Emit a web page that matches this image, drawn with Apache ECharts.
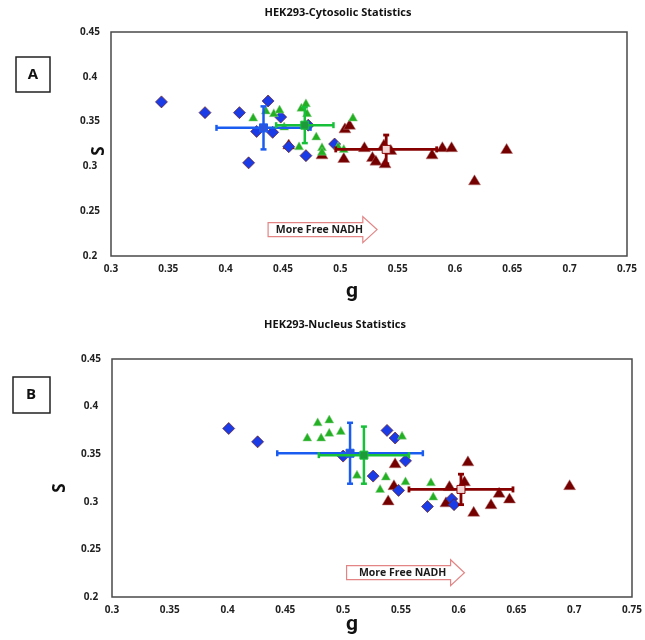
<!DOCTYPE html>
<html>
<head>
<meta charset="utf-8">
<script src="https://cdn.jsdelivr.net/npm/echarts@6/dist/echarts.min.js"></script>
<style>
  html, body { margin: 0; padding: 0; background: #fff; }
  #main { width: 645px; height: 640px; }
</style>
</head>
<body>
<div id="main"></div>
<script>
// axis ticks (same for both panels)
const gTicks = [0.3, 0.35, 0.4, 0.45, 0.5, 0.55, 0.6, 0.65, 0.7, 0.75];
const sTicks = [0.2, 0.25, 0.3, 0.35, 0.4, 0.45];

// panel A - cytosolic, points are [g, s]
const cytoBlue = [[0.344, 0.372], [0.382, 0.360], [0.412, 0.360], [0.437, 0.373], [0.448, 0.355], [0.427, 0.339],
  [0.441, 0.338], [0.472, 0.346], [0.455, 0.322], [0.470, 0.312], [0.420, 0.304], [0.495, 0.325]];
const cytoGreen = [[0.424, 0.355], [0.435, 0.363], [0.442, 0.360], [0.447, 0.364], [0.466, 0.366], [0.470, 0.371],
  [0.471, 0.360], [0.451, 0.345], [0.479, 0.334], [0.464, 0.323], [0.484, 0.322], [0.484, 0.317],
  [0.498, 0.323], [0.503, 0.320], [0.511, 0.355]];
const cytoRed = [[0.455, 0.325], [0.484, 0.314], [0.504, 0.343], [0.508, 0.347], [0.503, 0.310], [0.521, 0.322],
  [0.528, 0.311], [0.531, 0.307], [0.538, 0.325], [0.539, 0.304], [0.544, 0.319], [0.580, 0.314],
  [0.589, 0.322], [0.597, 0.322], [0.617, 0.285], [0.645, 0.320]];
// mean g, mean s, sd g, sd s
const cytoBlueMean = [0.433, 0.343, 0.041, 0.024];
const cytoGreenMean = [0.469, 0.346, 0.025, 0.020];
const cytoRedMean = [0.540, 0.319, 0.044, 0.016];

// panel B - nucleus
const nucBlue = [[0.401, 0.377], [0.426, 0.363], [0.538, 0.375], [0.545, 0.367], [0.500, 0.348], [0.554, 0.343],
  [0.526, 0.327], [0.548, 0.312], [0.573, 0.295], [0.594, 0.303], [0.596, 0.297]];
const nucGreen = [[0.469, 0.368], [0.478, 0.384], [0.488, 0.387], [0.481, 0.368], [0.488, 0.373], [0.498, 0.375],
  [0.551, 0.370], [0.512, 0.329], [0.537, 0.327], [0.532, 0.314], [0.554, 0.322], [0.576, 0.321], [0.578, 0.306]];
const nucRed = [[0.545, 0.341], [0.544, 0.318], [0.539, 0.302], [0.608, 0.343], [0.592, 0.317], [0.605, 0.322],
  [0.589, 0.300], [0.613, 0.290], [0.628, 0.298], [0.635, 0.310], [0.644, 0.304], [0.696, 0.318]];
const nucBlueMean = [0.506, 0.351, 0.063, 0.032];
const nucGreenMean = [0.518, 0.349, 0.039, 0.030];
const nucRedMean = [0.602, 0.313, 0.045, 0.016];

// arrow: g start, g end of body, g tip, s
const cytoArrow = [0.437, 0.5196, 0.532, 0.2295];
const nucArrow = [0.503, 0.593, 0.605, 0.2255];

const FONT = '"Open Sans", Lato, sans-serif';

function errBar(color, fill, lw) {
  return function (params, api) {
    const g = api.value(0), s = api.value(1), eg = api.value(2), es = api.value(3);
    const L = api.coord([g - eg, s]), R = api.coord([g + eg, s]);
    const T = api.coord([g, s + es]), B = api.coord([g, s - es]);
    const C = api.coord([g, s]);
    const cap = 3;
    const st = { stroke: color, lineWidth: lw };
    const ln = (x1, y1, x2, y2) => ({ type: 'line', shape: { x1, y1, x2, y2 }, style: st });
    return {
      type: 'group',
      children: [
        ln(L[0], L[1], R[0], R[1]),
        ln(T[0], T[1], B[0], B[1]),
        ln(L[0], L[1] - cap, L[0], L[1] + cap),
        ln(R[0], R[1] - cap, R[0], R[1] + cap),
        ln(T[0] - cap, T[1], T[0] + cap, T[1]),
        ln(B[0] - cap, B[1], B[0] + cap, B[1]),
        { type: 'rect', shape: { x: C[0] - 4, y: C[1] - 4, width: 8, height: 8 },
          style: { fill: fill, stroke: color, lineWidth: 1 } }
      ]
    };
  };
}

function arrowItem(params, api) {
  const a = api.coord([api.value(0), api.value(3)]);
  const b = api.coord([api.value(1), api.value(3)]);
  const tip = api.coord([api.value(2), api.value(3)]);
  const y = a[1], bh = 7, hh = 13;
  return {
    type: 'group',
    children: [
      { type: 'polygon',
        shape: { points: [[a[0], y - bh], [b[0], y - bh], [b[0], y - hh], [tip[0], y], [b[0], y + hh], [b[0], y + bh], [a[0], y + bh]] },
        style: { fill: '#fff', stroke: '#e38585', lineWidth: 1.2 } },
      { type: 'text',
        style: { text: 'More Free NADH', x: (a[0] + b[0]) / 2 + 4, y: y, align: 'center', verticalAlign: 'middle',
          font: 'bold 10.5px ' + FONT, fill: '#1a1a1a' } }
    ]
  };
}

const fmt = v => String(Math.round(v * 100) / 100);

function xAx(i) {
  return {
    gridIndex: i, type: 'value', min: gTicks[0], max: gTicks[gTicks.length - 1], interval: 0.05,
    axisLine: { show: false }, axisTick: { show: false }, splitLine: { show: false },
    axisLabel: { formatter: fmt, margin: 8, fontSize: 10, fontWeight: 'bold', color: '#222', fontFamily: FONT }
  };
}
function yAx(i) {
  return {
    gridIndex: i, type: 'value', min: sTicks[0], max: sTicks[sTicks.length - 1], interval: 0.05,
    axisLine: { show: false }, axisTick: { show: false }, splitLine: { show: false },
    axisLabel: { formatter: fmt, margin: 21, align: 'center', fontSize: 10, fontWeight: 'bold', color: '#222', fontFamily: FONT }
  };
}

function panel(i, blue, green, red, bm, gm, rm, arr) {
  const ax = { xAxisIndex: i, yAxisIndex: i };
  return [
    Object.assign({ type: 'scatter', data: blue, symbol: 'diamond', symbolSize: 12,
      itemStyle: { color: '#1a3be6', borderColor: '#6a2020', borderWidth: 0.7, opacity: 1 }, z: 3 }, ax),
    Object.assign({ type: 'scatter', data: red, symbol: 'triangle', symbolSize: [12, 10],
      itemStyle: { color: '#740000', borderColor: '#b87070', borderWidth: 0.5, opacity: 1 }, z: 2 }, ax),
    Object.assign({ type: 'scatter', data: green, symbol: 'triangle', symbolSize: [9, 8],
      itemStyle: { color: '#23b023', borderColor: '#8fd08f', borderWidth: 0.5, opacity: 1 }, z: 4 }, ax),
    Object.assign({ type: 'custom', data: [bm], renderItem: errBar('#1b5cf0', '#2a55e0', 2.5), encode: { x: 0, y: 1 }, z: 5 }, ax),
    Object.assign({ type: 'custom', data: [gm], renderItem: errBar('#18c03a', '#1e9a3a', 2.5), encode: { x: 0, y: 1 }, z: 6 }, ax),
    Object.assign({ type: 'custom', data: [rm], renderItem: errBar('#870000', '#f2d6d6', 2.8), encode: { x: 0, y: 1 }, z: 6 }, ax),
    Object.assign({ type: 'custom', data: [arr], renderItem: arrowItem, encode: { x: 0, y: 3 }, z: 1 }, ax)
  ];
}

const chart = echarts.init(document.getElementById('main'));
chart.setOption({
  animation: false,
  backgroundColor: '#fff',
  grid: [
    { left: 111, right: 18, top: 32, height: 224, show: true, borderColor: '#4a4a4a', borderWidth: 1.5, backgroundColor: 'transparent' },
    { left: 112, right: 10, top: 359, height: 238, show: true, borderColor: '#4a4a4a', borderWidth: 1.5, backgroundColor: 'transparent' }
  ],
  xAxis: [xAx(0), xAx(1)],
  yAxis: [yAx(0), yAx(1)],
  series: panel(0, cytoBlue, cytoGreen, cytoRed, cytoBlueMean, cytoGreenMean, cytoRedMean, cytoArrow)
    .concat(panel(1, nucBlue, nucGreen, nucRed, nucBlueMean, nucGreenMean, nucRedMean, nucArrow)),
  graphic: [
    { type: 'text', x: 338, y: 13, style: { text: 'HEK293-Cytosolic Statistics', font: 'bold 11px ' + FONT, fill: '#111', align: 'center', verticalAlign: 'middle' } },
    { type: 'text', x: 335, y: 325, style: { text: 'HEK293-Nucleus Statistics', font: 'bold 11px ' + FONT, fill: '#111', align: 'center', verticalAlign: 'middle' } },
    { type: 'text', x: 352, y: 292, style: { text: 'g', font: 'bold 21px Roboto, ' + FONT, fill: '#111', align: 'center', verticalAlign: 'middle' } },
    { type: 'text', x: 352, y: 625, style: { text: 'g', font: 'bold 21px Roboto, ' + FONT, fill: '#111', align: 'center', verticalAlign: 'middle' } },
    { type: 'text', x: 99, y: 151, rotation: Math.PI / 2, style: { text: 'S', font: 'bold 17px ' + FONT, fill: '#111', align: 'center', verticalAlign: 'middle' } },
    { type: 'text', x: 60, y: 488, rotation: Math.PI / 2, style: { text: 'S', font: 'bold 17px ' + FONT, fill: '#111', align: 'center', verticalAlign: 'middle' } },
    { type: 'rect', shape: { x: 16, y: 57, width: 34, height: 35 }, style: { fill: '#fff', stroke: '#222', lineWidth: 1.5 } },
    { type: 'text', x: 33, y: 75, style: { text: 'A', font: 'bold 15px ' + FONT, fill: '#111', align: 'center', verticalAlign: 'middle' } },
    { type: 'rect', shape: { x: 13, y: 377, width: 37, height: 36 }, style: { fill: '#fff', stroke: '#222', lineWidth: 1.5 } },
    { type: 'text', x: 31, y: 395, style: { text: 'B', font: 'bold 15px ' + FONT, fill: '#111', align: 'center', verticalAlign: 'middle' } }
  ]
});
</script>
</body>
</html>
